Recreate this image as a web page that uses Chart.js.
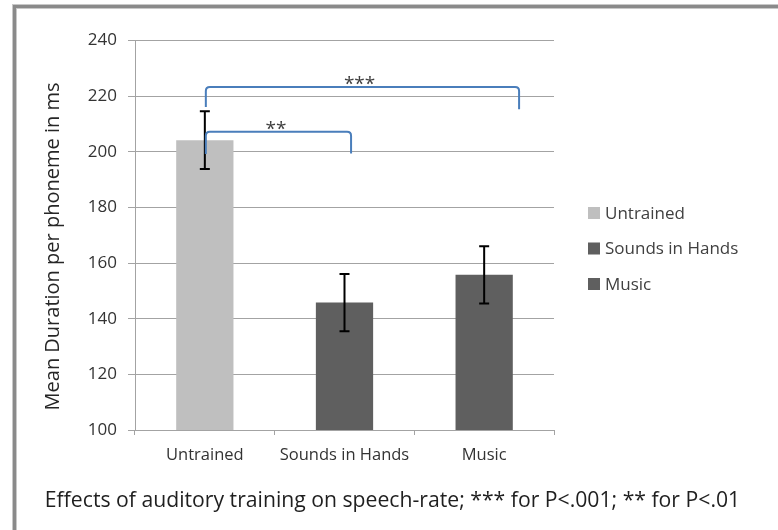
<!DOCTYPE html>
<html>
<head>
<meta charset="utf-8">
<script src="https://cdn.jsdelivr.net/npm/chart.js@4"></script>
<style>
  html, body { margin: 0; padding: 0; background: #ffffff; }
  canvas { display: block; }
</style>
</head>
<body>
<canvas id="c" width="778" height="530"></canvas>
<script>
// ---------- data ----------
const categories = ['Untrained', 'Sounds in Hands', 'Music'];
const meanDuration = [204.2, 145.8, 155.8];
const stdError = [10.4, 10.3, 10.3];
const yTickValues = [100, 120, 140, 160, 180, 200, 220, 240];
const yAxisTitle = 'Mean Duration per phoneme in ms';
const captionText = 'Effects of auditory training on speech-rate; *** for P<.001; ** for P<.01';

// significance brackets (x in category index units, y in ms)
const sigLabels = ['***', '**'];
const sigFrom = [0, 0];
const sigTo = [2.25, 1.047];
const sigTop = [223.3, 207.2];
const sigLeftBottom = [216.1, 199.2];
const sigRightBottom = [215.3, 199.4];
const sigLabelX = [1.108, 0.51];
const sigLabelY = [225.2, 209.1];

// ---------- styles ----------
const FONT = "'Open Sans', 'Noto Sans', sans-serif";
const barColors = ['#bfbfbf', '#5f5f5f', '#5f5f5f'];
const gridColor = '#a3a3a3';
const bracketColor = '#4a7ebb';

const overlay = {
  id: 'overlay',
  afterDraw(chart) {
    const ctx = chart.ctx;
    const xs = chart.scales.x, ys = chart.scales.y;
    ctx.save();

    // outer frame (top + left)
    ctx.fillStyle = '#c8c8c8';
    ctx.fillRect(12, 4, 766, 1);
    ctx.fillRect(12, 4, 1, 526);
    ctx.fillRect(16, 8, 762, 1);
    ctx.fillRect(16, 8, 1, 522);
    ctx.fillStyle = '#8a8a8a';
    ctx.fillRect(13, 5, 765, 3);
    ctx.fillRect(13, 5, 3, 525);

    // error bars
    ctx.strokeStyle = '#000000';
    ctx.lineWidth = 2;
    meanDuration.forEach((v, i) => {
      const x = xs.getPixelForValue(i);
      const yt = ys.getPixelForValue(v + stdError[i]);
      const yb = ys.getPixelForValue(v - stdError[i]);
      ctx.beginPath();
      ctx.moveTo(x, yt); ctx.lineTo(x, yb);
      ctx.moveTo(x - 5, yt); ctx.lineTo(x + 5, yt);
      ctx.moveTo(x - 5, yb); ctx.lineTo(x + 5, yb);
      ctx.stroke();
    });

    // significance brackets
    ctx.strokeStyle = bracketColor;
    ctx.lineWidth = 2;
    const r = 4;
    sigLabels.forEach((lab, i) => {
      const xl = xs.getPixelForValue(sigFrom[i]) + 1;
      const xr = xs.getPixelForValue(sigTo[i]);
      const yt = ys.getPixelForValue(sigTop[i]);
      const ylb = ys.getPixelForValue(sigLeftBottom[i]);
      const yrb = ys.getPixelForValue(sigRightBottom[i]);
      ctx.beginPath();
      ctx.moveTo(xl, ylb);
      ctx.lineTo(xl, yt + r);
      ctx.quadraticCurveTo(xl, yt, xl + r, yt);
      ctx.lineTo(xr - r, yt);
      ctx.quadraticCurveTo(xr, yt, xr, yt + r);
      ctx.lineTo(xr, yrb);
      ctx.stroke();

      ctx.fillStyle = '#404040';
      ctx.font = '19px ' + FONT;
      ctx.textAlign = 'center';
      ctx.textBaseline = 'alphabetic';
      ctx.fillText(lab, xs.getPixelForValue(sigLabelX[i]), ys.getPixelForValue(sigLabelY[i]) + 8.5);
    });

    // legend
    ctx.font = '17px ' + FONT;
    ctx.textAlign = 'left';
    ctx.textBaseline = 'middle';
    categories.forEach((c, i) => {
      const cy = 213 + i * 35.5;
      ctx.fillStyle = barColors[i];
      ctx.fillRect(588, cy - 6, 12, 12);
      ctx.fillStyle = '#404040';
      ctx.fillText(c, 605, cy + 1);
    });

    // y axis title
    ctx.save();
    ctx.translate(59, 246.5);
    ctx.rotate(-Math.PI / 2);
    ctx.fillStyle = '#262626';
    ctx.font = '20px ' + FONT;
    ctx.textAlign = 'center';
    ctx.textBaseline = 'alphabetic';
    ctx.fillText(yAxisTitle, 0, 0);
    ctx.restore();

    // caption
    ctx.fillStyle = '#1f1f1f';
    ctx.font = '21.2px ' + FONT;
    ctx.textAlign = 'center';
    ctx.textBaseline = 'alphabetic';
    ctx.fillText(captionText, 392.5, 507);

    ctx.restore();
  }
};

new Chart(document.getElementById('c'), {
  type: 'bar',
  data: {
    labels: categories,
    datasets: [{
      label: 'Mean duration',
      data: meanDuration,
      backgroundColor: barColors,
      borderWidth: 0,
      categoryPercentage: 1.0,
      barPercentage: 0.41
    }]
  },
  options: {
    responsive: false,
    animation: false,
    devicePixelRatio: 1,
    layout: { padding: { left: 0, top: 40.6, right: 224, bottom: 0 } },
    plugins: { legend: { display: false }, tooltip: { enabled: false }, title: { display: false } },
    scales: {
      x: {
        grid: { offset: true, drawOnChartArea: false, drawTicks: true, tickLength: 5, color: gridColor },
        border: { display: true, color: gridColor, width: 1 },
        ticks: { color: '#333333', font: { family: FONT, size: 16.5 }, padding: 10, maxRotation: 0 },
        afterFit(s) { s.height = 100; }
      },
      y: {
        min: yTickValues[0],
        max: yTickValues[yTickValues.length - 1],
        ticks: { stepSize: yTickValues[1] - yTickValues[0], color: '#333333', font: { family: FONT, size: 17 }, padding: 11 },
        grid: { color: gridColor, tickLength: 7, drawTicks: true },
        border: { display: true, color: gridColor, width: 1 },
        afterFit(s) { s.width = 135; }
      }
    }
  },
  plugins: [overlay]
});
</script>
</body>
</html>
